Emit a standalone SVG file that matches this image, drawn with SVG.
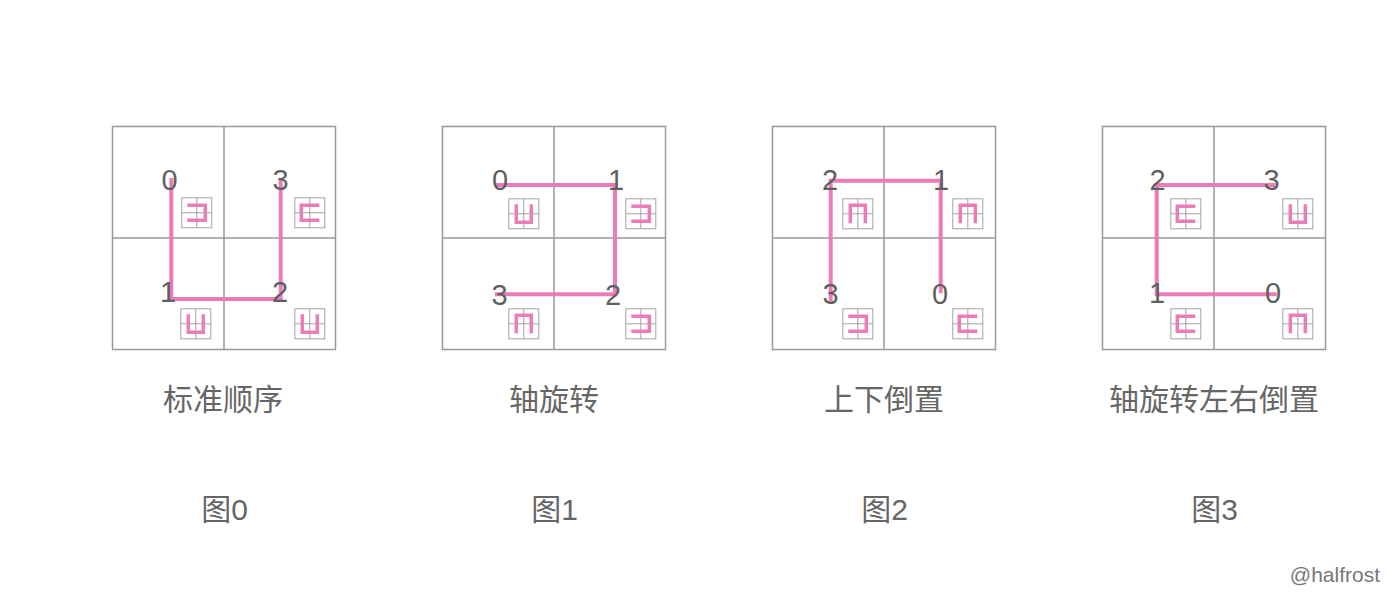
<svg xmlns="http://www.w3.org/2000/svg" xmlns:xlink="http://www.w3.org/1999/xlink" width="1398" height="593" viewBox="0 0 1398 593">
<style>
.grid{fill:none;stroke:#999;stroke-width:1.5}
.ib{fill:#fff;stroke:#a3a3a3;stroke-width:1}
.ip{fill:none;stroke:#EA7DB7;stroke-width:3.5}
.conn{fill:none;stroke:#EA7DB7;stroke-width:4}
.num{font-family:"Liberation Sans","Noto Sans",sans-serif;font-size:29px;fill:#5f5f5f;text-anchor:middle}
.cap{font-family:"Liberation Sans","Noto Sans CJK SC",sans-serif;font-size:30px;fill:#666;text-anchor:middle}
.sig{font-family:"Liberation Sans","Noto Sans",sans-serif;font-size:21px;fill:#777;text-anchor:end}
</style>
<defs>
<g id="box"><rect class="ib" x="0.5" y="0.5" width="30" height="30"/><path class="ib" d="M15.5,0.5V30.5M0.5,15.5H30.5"/></g>
<g id="iU"><use xlink:href="#box"/><path class="ip" d="M8,6V24H23V6"/></g>
<g id="iN"><use xlink:href="#box"/><path class="ip" d="M8,25V7H23V25"/></g>
<g id="iL"><use xlink:href="#box"/><path class="ip" d="M6,8H24V23H6"/></g>
<g id="iR"><use xlink:href="#box"/><path class="ip" d="M25,8H7V23H25"/></g>
</defs>
<rect width="1398" height="593" fill="#fff"/>
<g id="panel0">
<rect class="grid" x="112.5" y="126.5" width="223" height="223"/>
<path class="grid" d="M224,126.5V349.5M112.5,238H335.5"/>
<use xlink:href="#iL" x="181.3" y="197.3"/>
<use xlink:href="#iR" x="294.3" y="197.3"/>
<use xlink:href="#iU" x="180.3" y="308.3"/>
<use xlink:href="#iU" x="294.3" y="308.3"/>
<text class="cap" x="223" y="410">标准顺序</text>
<text class="cap" x="224.5" y="520">图0</text>
</g>
<g id="panel1">
<rect class="grid" x="442.5" y="126.5" width="223" height="223"/>
<path class="grid" d="M554,126.5V349.5M442.5,238H665.5"/>
<use xlink:href="#iU" x="508.3" y="198.3"/>
<use xlink:href="#iL" x="625.3" y="198.3"/>
<use xlink:href="#iN" x="508.3" y="308.3"/>
<use xlink:href="#iL" x="625.3" y="308.3"/>
<text class="cap" x="554" y="410">轴旋转</text>
<text class="cap" x="554.5" y="520">图1</text>
</g>
<g id="panel2">
<rect class="grid" x="772.5" y="126.5" width="223" height="223"/>
<path class="grid" d="M884,126.5V349.5M772.5,238H995.5"/>
<use xlink:href="#iN" x="842.3" y="198.3"/>
<use xlink:href="#iN" x="952.3" y="198.3"/>
<use xlink:href="#iL" x="842.3" y="308.3"/>
<use xlink:href="#iR" x="952.3" y="308.3"/>
<text class="cap" x="884" y="410">上下倒置</text>
<text class="cap" x="884.5" y="520">图2</text>
</g>
<g id="panel3">
<rect class="grid" x="1102.5" y="126.5" width="223" height="223"/>
<path class="grid" d="M1214,126.5V349.5M1102.5,238H1325.5"/>
<use xlink:href="#iR" x="1170.3" y="198.3"/>
<use xlink:href="#iU" x="1282.3" y="198.3"/>
<use xlink:href="#iR" x="1170.3" y="308.3"/>
<use xlink:href="#iN" x="1282.3" y="308.3"/>
<text class="cap" x="1214" y="410">轴旋转左右倒置</text>
<text class="cap" x="1214.5" y="520">图3</text>
</g>
<g id="connectors">
<path class="conn" d="M171.3,178V299H280.7V180"/>
<path class="conn" d="M495,185H615V294.3H495"/>
<path class="conn" d="M830.7,301.7V180.7H940.7V293.3"/>
<path class="conn" d="M1275,185H1156.7V294.3H1276.7"/>
</g>
<g id="labels0">
<text class="num" x="169.5" y="189.5">0</text>
<text class="num" x="280.5" y="189.5">3</text>
<text class="num" x="168" y="301.5">1</text>
<text class="num" x="280" y="301.5">2</text>
</g>
<g id="labels1">
<text class="num" x="500" y="190">0</text>
<text class="num" x="616" y="190">1</text>
<text class="num" x="499.5" y="304.5">3</text>
<text class="num" x="613" y="304.5">2</text>
</g>
<g id="labels2">
<text class="num" x="830" y="190">2</text>
<text class="num" x="941" y="190">1</text>
<text class="num" x="830.5" y="303.5">3</text>
<text class="num" x="940" y="303.5">0</text>
</g>
<g id="labels3">
<text class="num" x="1157.5" y="190">2</text>
<text class="num" x="1271.5" y="190">3</text>
<text class="num" x="1157" y="303">1</text>
<text class="num" x="1273" y="303">0</text>
</g>
<text id="signature" class="sig" x="1380" y="581.5">@halfrost</text>
</svg>
